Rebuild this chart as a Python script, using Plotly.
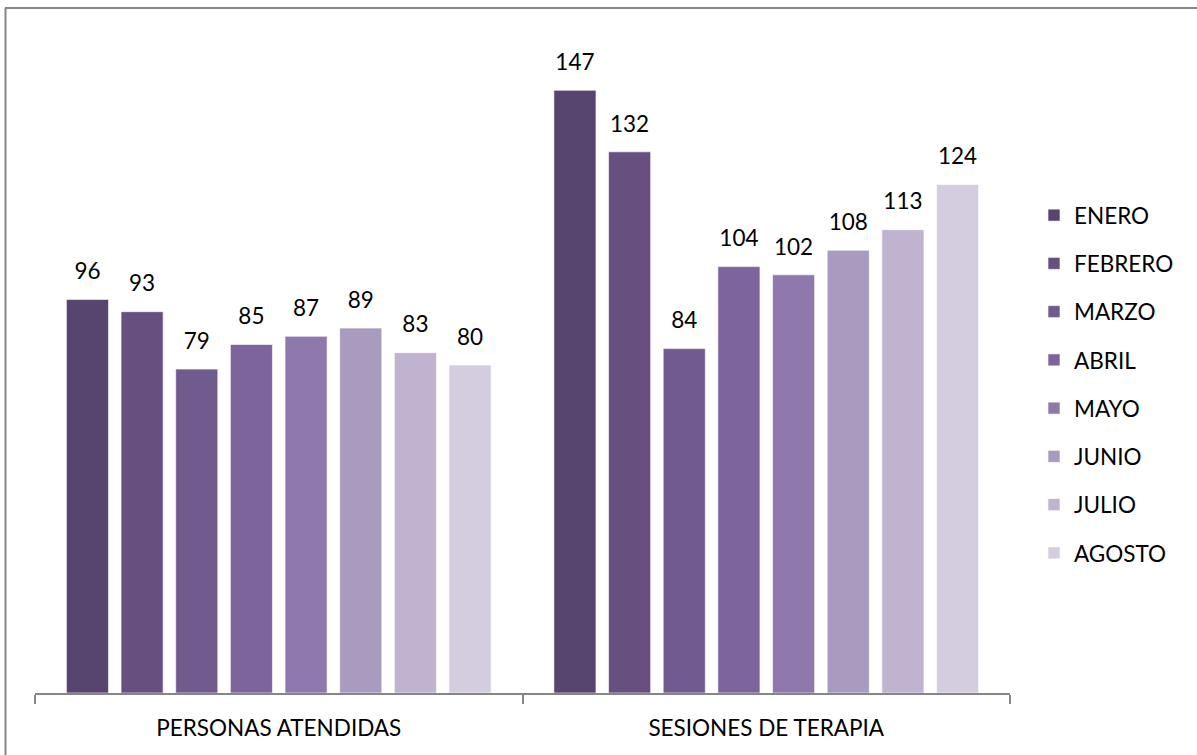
import plotly.graph_objects as go

categories = ["PERSONAS ATENDIDAS", "SESIONES DE TERAPIA"]
months = ["ENERO", "FEBRERO", "MARZO", "ABRIL", "MAYO", "JUNIO", "JULIO", "AGOSTO"]
personas = [96, 93, 79, 85, 87, 89, 83, 80]
sesiones = [147, 132, 84, 104, 102, 108, 113, 124]
colors = ["#574570", "#67507F", "#705A8E", "#7E649C", "#8F78AC", "#A99BC0", "#BFB3CF", "#D3CDDF"]

FONT = "Lato"
FS = 22.5
LABEL_PAD = 3  # invisible spacer (data units) between bar top and its label

fig = go.Figure()
for i, m in enumerate(months):
    vals = [personas[i], sesiones[i]]
    fig.add_trace(go.Bar(
        x=categories, y=vals, name=m, legendgroup=m, offsetgroup=m,
        marker=dict(color=colors[i], line=dict(color="rgba(255,255,255,0.6)", width=1)),
    ))
    fig.add_trace(go.Bar(
        x=categories, y=[LABEL_PAD] * len(vals), base=vals, name=m,
        legendgroup=m, offsetgroup=m, showlegend=False, hoverinfo="skip",
        marker=dict(color="rgba(0,0,0,0)", line=dict(width=0)),
        text=[str(v) for v in vals], textposition="outside",
        textfont=dict(family=FONT, size=FS, color="#000000"),
        cliponaxis=False,
    ))

W, H = 1197, 755
L, R, T, B = 35, 1197 - 1010, 37, 755 - 693
pw, ph = W - L - R, H - T - B

def px(x):
    return (x - L) / pw

def py(y):
    return (H - B - y) / ph

fig.update_layout(
    width=W, height=H,
    margin=dict(l=L, r=R, t=T, b=B),
    paper_bgcolor="white", plot_bgcolor="white",
    barmode="group", bargap=0.103, bargroupgap=0.23,
    font=dict(family=FONT, size=FS, color="#000000"),
    showlegend=True,
    legend=dict(x=px(1034), y=py(384), xanchor="left", yanchor="middle",
                font=dict(family=FONT, size=FS, color="#000000"),
                tracegroupgap=16, itemwidth=30, bgcolor="rgba(0,0,0,0)"),
    xaxis=dict(showline=True, linecolor="#868686", linewidth=1.5,
               ticks="outside", tickson="boundaries", ticklen=9, tickcolor="#868686",
               tickwidth=1.5, showgrid=False, ticklabelstandoff=14,
               tickfont=dict(family=FONT, size=FS, color="#000000")),
    yaxis=dict(range=[0, 160], visible=False, showgrid=False),
    shapes=[
        dict(type="line", xref="paper", yref="paper",
             x0=px(5), x1=px(1205), y0=py(8), y1=py(8),
             line=dict(color="#868686", width=2)),
        dict(type="line", xref="paper", yref="paper",
             x0=px(5.5), x1=px(5.5), y0=py(8), y1=py(765),
             line=dict(color="#868686", width=2)),
    ],
)

fig.write_html("out.html", config={"displayModeBar": False},
               post_script="document.body.style.margin='0px';")
